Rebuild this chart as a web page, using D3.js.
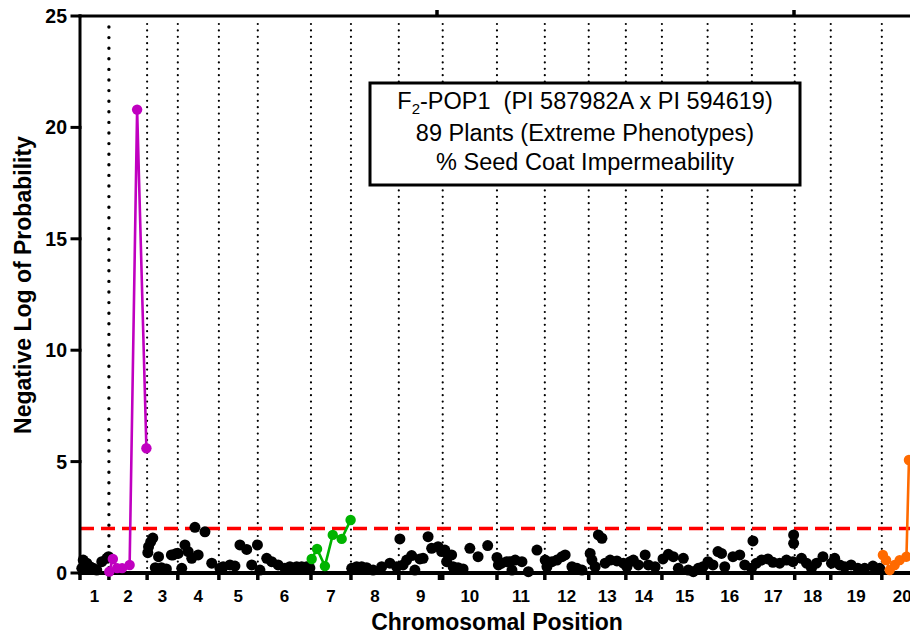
<!DOCTYPE html>
<html><head><meta charset="utf-8">
<script src="https://cdn.jsdelivr.net/npm/d3@7"></script>
<style>
html,body{margin:0;padding:0;background:#fff;}
svg{display:block;font-family:"Liberation Sans",Arial,Helvetica,sans-serif;}
</style></head>
<body><svg id="c" width="910" height="634"></svg>
<script>
// ---- data ----
const chromosomes = ["1","2","3","4","5","6","7","8","9","10","11","12","13","14","15","16","17","18","19","20"];
const chromBounds = [0,81,188,274,389,498,647,759,893,1016,1168,1302,1425,1529,1630,1758,1882,2002,2103,2246,2360]; // cM
const extraTicks = [1007];
const topTicks = [1000, 2000];
const yTicks = [0,5,10,15,20,25];
const threshold = 2;

const blackPos = [5,9,14,19,28,37,47,61,75,80,
  190,192,198,204,211,220,228,242,256,261,270,275,
  285,294,303,313,322,331,350,369,
  392,401,420,434,448,467,481,497,504,
  523,537,555,574,588,607,621,635,644,
  761,775,789,803,821,845,868,887,
  896,905,915,929,938,952,961,975,985,1003,1013,
  1022,1027,1031,1041,1045,1059,1073,1092,1115,1142,1168,
  1172,1181,1195,1205,1210,1219,1238,1256,1280,
  1303,1308,1322,1336,1350,1359,1378,1392,1406,
  1429,1434,1443,1452,1462,1471,1485,1504,1522,
  1532,1541,1550,1564,1583,1592,1611,
  1633,1648,1662,1676,1690,1704,1718,1732,1745,
  1759,1773,1787,1797,1806,1829,1848,1862,1881,
  1885,1895,1909,1927,1941,1960,1979,1997,1999,1999,
  2021,2035,2049,2063,2081,
  2105,2114,2128,2142,2160,2179,2198,2221,2240];
const blackLod = [0.21,0.58,0.22,0.44,0.28,0.21,0.13,0.51,0.66,0.73,
  0.91,1.18,1.40,1.57,0.24,0.73,0.24,0.18,0.81,0.81,0.88,0.88,
  0.21,1.26,0.96,0.66,2.05,0.81,1.85,0.44,
  0.21,0.28,0.36,0.31,1.26,1.06,0.36,1.26,0.13,
  0.66,0.51,0.36,0.21,0.28,0.28,0.28,0.28,0.22,
  0.21,0.28,0.28,0.24,0.13,0.28,0.44,0.28,
  1.53,0.36,0.58,0.78,0.13,0.63,0.66,1.63,1.11,1.18,0.96,
  1.03,0.51,0.81,0.81,0.28,0.24,0.18,1.11,0.73,1.23,0.70,
  0.36,0.44,0.51,0.51,0.13,0.58,0.51,0.06,1.03,
  0.58,0.28,0.51,0.58,0.73,0.81,0.28,0.21,0.13,
  0.88,0.58,0.28,1.71,1.56,0.44,0.58,0.54,0.44,
  0.28,0.51,0.58,0.36,0.81,0.36,0.28,
  0.63,0.84,0.73,0.21,0.66,0.13,0.06,0.21,0.28,
  0.51,0.36,0.96,0.88,0.28,0.73,0.81,0.36,0.21,
  1.44,0.44,0.58,0.63,0.48,0.44,0.58,0.51,1.71,1.33,
  0.66,0.44,0.21,0.44,0.73,
  0.44,0.66,0.36,0.28,0.36,0.21,0.21,0.31,0.21];

const magentaPos = [82,92,104,118,139,160,186];
const magentaLod = [0.06,0.63,0.22,0.22,0.36,20.8,5.6];
const greenPos = [649,664,686,708,733,758];
const greenLod = [0.63,1.08,0.31,1.71,1.53,2.38];
const orangePos = [2249,2258,2268,2282,2296,2315,2322];
const orangeLod = [0.81,0.58,0.13,0.36,0.58,0.73,5.07];

const titleLines = ["89 Plants (Extreme Phenotypes)", "% Seed Coat Impermeability"];

// ---- drawing ----
const svg = d3.select("#c");
const x = d3.scaleLinear().domain([0,2500]).range([80, 80+2500*0.357]);
const y = d3.scaleLinear().domain([0,25]).range([573,16]);
const X0 = 80, X1 = 910;

// dotted chromosome boundaries
const inner = chromBounds.slice(1, chromBounds.length-1);
svg.append("g").selectAll("line").data(inner).join("line")
  .attr("x1", d=>x(d)).attr("x2", d=>x(d))
  .attr("y1", (d,i)=> i===0 ? 27 : 24).attr("y2", 572)
  .attr("stroke","#000")
  .attr("stroke-width",(d,i)=> i===0 ? 3.4 : 2.2)
  .attr("stroke-linecap","round")
  .attr("stroke-dasharray",(d,i)=> i===0 ? "0,10.6" : "0,6.4");

// title box
const bx = 370, by = 83, bw = 430, bh = 102;
svg.append("rect").attr("x",bx).attr("y",by).attr("width",bw).attr("height",bh)
  .attr("fill","#fff").attr("stroke","#000").attr("stroke-width",3);
const t1 = svg.append("text").attr("x",bx+bw/2).attr("y",109).attr("text-anchor","middle")
  .attr("font-size",23.5).attr("fill","#000");
t1.append("tspan").text("F");
t1.append("tspan").attr("font-size",15).attr("dy",5).text("2");
t1.append("tspan").attr("dy",-5).text("-POP1\u00a0\u00a0(PI 587982A x PI 594619)");
svg.append("g").selectAll("text").data(titleLines).join("text")
  .attr("x",bx+bw/2).attr("y",(d,i)=>141+i*29).attr("text-anchor","middle")
  .attr("font-size",23.5).attr("fill","#000").text(d=>d);

// threshold
svg.append("line").attr("x1",X0).attr("x2",X1).attr("y1",y(threshold)).attr("y2",y(threshold))
  .attr("stroke","#ff0000").attr("stroke-width",3.5).attr("stroke-dasharray","14,7");

// axes
const ax = svg.append("g").attr("stroke","#000").attr("stroke-linecap","square");
ax.append("line").attr("x1",X0).attr("x2",X1).attr("y1",16).attr("y2",16).attr("stroke-width",3);
ax.append("line").attr("x1",X0).attr("x2",X0).attr("y1",16).attr("y2",573).attr("stroke-width",3);
ax.append("line").attr("x1",X0).attr("x2",X1).attr("y1",573).attr("y2",573).attr("stroke-width",4);
ax.selectAll(".yt").data(yTicks).join("line").attr("class","yt")
  .attr("x1",72).attr("x2",X0).attr("y1",d=>y(d)).attr("y2",d=>y(d)).attr("stroke-width",3);
ax.selectAll(".xt").data(chromBounds.slice(0,chromBounds.length-1).concat(extraTicks)).join("line").attr("class","xt")
  .attr("x1",d=>x(d)).attr("x2",d=>x(d)).attr("y1",573).attr("y2",580).attr("stroke-width",3.5).attr("stroke-linecap","butt");
ax.selectAll(".tt").data(topTicks).join("line").attr("class","tt")
  .attr("x1",d=>x(d)).attr("x2",d=>x(d)).attr("y1",16).attr("y2",10).attr("stroke-width",3.5).attr("stroke-linecap","butt");

svg.append("g").selectAll("text").data(yTicks).join("text")
  .attr("x",67).attr("y",d=>y(d)+7).attr("text-anchor","end")
  .attr("font-size",19.5).attr("font-weight","bold").text(d=>d);

svg.append("g").selectAll("text").data(chromosomes).join("text")
  .attr("x",(d,i)=>x((chromBounds[i]+chromBounds[i+1])/2)).attr("y",602)
  .attr("text-anchor","middle").attr("font-size",17).attr("font-weight","bold").text(d=>d);

svg.append("text").attr("x",497).attr("y",630).attr("text-anchor","middle")
  .attr("font-size",23).attr("font-weight","bold").text("Chromosomal Position");
svg.append("text").attr("transform","translate(31,285) rotate(-90)").attr("text-anchor","middle")
  .attr("font-size",23).attr("font-weight","bold").text("Negative Log of Probability");

// black points
const black = blackPos.map((p,i)=>({p, v: blackLod[i]}));
svg.append("g").selectAll("circle").data(black).join("circle")
  .attr("cx",d=>x(d.p)).attr("cy",d=>y(d.v)).attr("r",5.5).attr("fill","#000");

// colored series
function series(pos, lod, color){
  const pts = pos.map((p,i)=>({p, v: lod[i]}));
  const g = svg.append("g");
  g.append("path").datum(pts)
    .attr("d", d3.line().x(d=>x(d.p)).y(d=>y(d.v)))
    .attr("fill","none").attr("stroke",color).attr("stroke-width",2.6);
  g.selectAll("circle").data(pts).join("circle")
    .attr("cx",d=>x(d.p)).attr("cy",d=>y(d.v)).attr("r",5.2).attr("fill",color);
}
series(magentaPos, magentaLod, "#c000c0");
series(greenPos, greenLod, "#00b400");
series(orangePos, orangeLod, "#ff6a00");
</script>
</body></html>
